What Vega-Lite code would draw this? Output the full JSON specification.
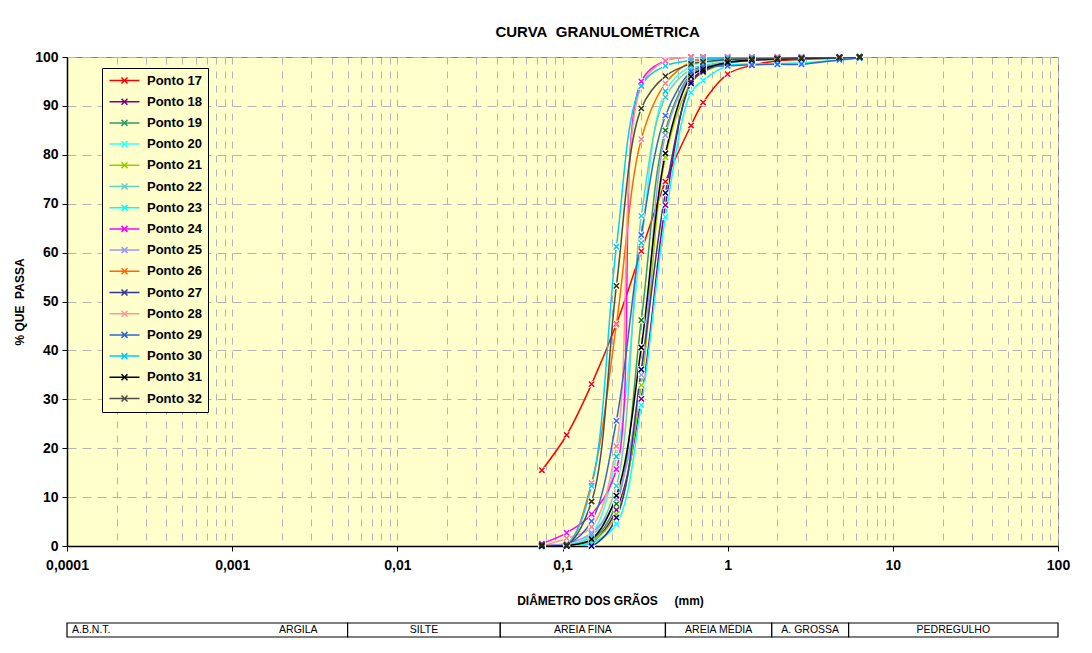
{
  "$schema": "https://vega.github.io/schema/vega-lite/v6.json",
  "background": "white",
  "padding": {"left": 13, "top": 24, "right": 10, "bottom": 5},
  "title": {"text": "CURVA\u00a0\u00a0GRANULOMÉTRICA", "font": "Liberation Sans", "fontSize": 15, "fontWeight": "bold", "color": "black", "anchor": "middle", "dx": 56, "offset": 10},
  "config": {"font": "Liberation Sans", "view": {"stroke": null}},
  "spacing": 15,
  "vconcat": [
    {
      "width": 991,
      "height": 489,
      "view": {"fill": "#FFFFCC", "stroke": "#808080", "strokeWidth": 1},
      "data": {"values": [
        {"abertura": 0.075, "Ponto 17": 15.5, "Ponto 18": 0, "Ponto 19": 0, "Ponto 20": 0, "Ponto 21": 0, "Ponto 22": 0, "Ponto 23": 0, "Ponto 24": 0.5, "Ponto 25": 0.3, "Ponto 26": 0, "Ponto 27": 0, "Ponto 28": 0, "Ponto 29": 0, "Ponto 30": 0, "Ponto 31": 0, "Ponto 32": 0.3},
        {"abertura": 0.106, "Ponto 17": 22.7, "Ponto 18": 0.1, "Ponto 19": 0.1, "Ponto 20": 0.2, "Ponto 21": 0.1, "Ponto 22": 0.2, "Ponto 23": 0, "Ponto 24": 2.7, "Ponto 25": 0.5, "Ponto 26": 0.2, "Ponto 27": 0, "Ponto 28": 1.6, "Ponto 29": 0.3, "Ponto 30": 0.3, "Ponto 31": 0.1, "Ponto 32": 0.2},
        {"abertura": 0.15, "Ponto 17": 33.1, "Ponto 18": 0.8, "Ponto 19": 1.2, "Ponto 20": 2.5, "Ponto 21": 0.9, "Ponto 22": 2.0, "Ponto 23": 0.6, "Ponto 24": 6.5, "Ponto 25": 2.7, "Ponto 26": 12.9, "Ponto 27": 0, "Ponto 28": 3.9, "Ponto 29": 5.1, "Ponto 30": 12.3, "Ponto 31": 1.4, "Ponto 32": 9.1},
        {"abertura": 0.212, "Ponto 17": 45.4, "Ponto 18": 7.4, "Ponto 19": 8.6, "Ponto 20": 18.3, "Ponto 21": 6.5, "Ponto 22": 12.3, "Ponto 23": 4.5, "Ponto 24": 15.7, "Ponto 25": 9.6, "Ponto 26": 45.3, "Ponto 27": 5.8, "Ponto 28": 20.4, "Ponto 29": 25.6, "Ponto 30": 61.2, "Ponto 31": 10.3, "Ponto 32": 53.2},
        {"abertura": 0.3, "Ponto 17": 60.3, "Ponto 18": 30.1, "Ponto 19": 46.2, "Ponto 20": 62.0, "Ponto 21": 32.9, "Ponto 22": 67.5, "Ponto 23": 28.8, "Ponto 24": 95.0, "Ponto 25": 35.0, "Ponto 26": 83.2, "Ponto 27": 36.1, "Ponto 28": 94.0, "Ponto 29": 63.6, "Ponto 30": 94.1, "Ponto 31": 40.6, "Ponto 32": 89.5},
        {"abertura": 0.42, "Ponto 17": 74.5, "Ponto 18": 69.7, "Ponto 19": 85.0, "Ponto 20": 93.0, "Ponto 21": 79.5, "Ponto 22": 91.8, "Ponto 23": 67.3, "Ponto 24": 99.2, "Ponto 25": 84.0, "Ponto 26": 94.6, "Ponto 27": 72.2, "Ponto 28": 99.2, "Ponto 29": 88.0, "Ponto 30": 98.2, "Ponto 31": 80.3, "Ponto 32": 96.1},
        {"abertura": 0.6, "Ponto 17": 86.0, "Ponto 18": 95.0, "Ponto 19": 96.5, "Ponto 20": 98.2, "Ponto 21": 94.6, "Ponto 22": 97.5, "Ponto 23": 92.7, "Ponto 24": 100, "Ponto 25": 96.2, "Ponto 26": 99.0, "Ponto 27": 94.6, "Ponto 28": 100, "Ponto 29": 97.0, "Ponto 30": 99.3, "Ponto 31": 96.0, "Ponto 32": 98.6},
        {"abertura": 0.71, "Ponto 17": 90.7, "Ponto 18": 97.2, "Ponto 19": 97.8, "Ponto 20": 98.8, "Ponto 21": 96.8, "Ponto 22": 98.3, "Ponto 23": 95.2, "Ponto 24": 100, "Ponto 25": 97.6, "Ponto 26": 99.4, "Ponto 27": 97.0, "Ponto 28": 100, "Ponto 29": 98.0, "Ponto 30": 99.6, "Ponto 31": 97.5, "Ponto 32": 99.0},
        {"abertura": 1.0, "Ponto 17": 96.5, "Ponto 18": 98.8, "Ponto 19": 98.9, "Ponto 20": 99.3, "Ponto 21": 98.7, "Ponto 22": 99.0, "Ponto 23": 98.2, "Ponto 24": 100, "Ponto 25": 98.8, "Ponto 26": 99.7, "Ponto 27": 98.8, "Ponto 28": 100, "Ponto 29": 98.2, "Ponto 30": 99.8, "Ponto 31": 98.9, "Ponto 32": 99.5},
        {"abertura": 1.4, "Ponto 17": 98.3, "Ponto 18": 99.4, "Ponto 19": 99.3, "Ponto 20": 99.5, "Ponto 21": 99.3, "Ponto 22": 99.4, "Ponto 23": 98.6, "Ponto 24": 100, "Ponto 25": 99.3, "Ponto 26": 99.8, "Ponto 27": 99.3, "Ponto 28": 100, "Ponto 29": 98.4, "Ponto 30": 99.9, "Ponto 31": 99.4, "Ponto 32": 99.6},
        {"abertura": 2.0, "Ponto 17": 99.2, "Ponto 18": 99.7, "Ponto 19": 99.5, "Ponto 20": 99.6, "Ponto 21": 99.6, "Ponto 22": 99.6, "Ponto 23": 98.6, "Ponto 24": 100, "Ponto 25": 99.6, "Ponto 26": 99.9, "Ponto 27": 99.6, "Ponto 28": 100, "Ponto 29": 98.5, "Ponto 30": 99.9, "Ponto 31": 99.6, "Ponto 32": 99.7},
        {"abertura": 2.8, "Ponto 17": 99.5, "Ponto 18": 99.8, "Ponto 19": 99.6, "Ponto 20": 99.7, "Ponto 21": 99.8, "Ponto 22": 99.7, "Ponto 23": 98.8, "Ponto 24": 100, "Ponto 25": 99.7, "Ponto 26": 99.9, "Ponto 27": 99.7, "Ponto 28": 100, "Ponto 29": 98.5, "Ponto 30": 100, "Ponto 31": 99.7, "Ponto 32": 99.8},
        {"abertura": 4.75, "Ponto 17": 99.8, "Ponto 18": 99.9, "Ponto 19": 99.8, "Ponto 20": 99.9, "Ponto 21": 99.9, "Ponto 22": 99.9, "Ponto 23": 99.4, "Ponto 24": 100, "Ponto 25": 99.9, "Ponto 26": 100, "Ponto 27": 99.9, "Ponto 28": 100, "Ponto 29": 99.4, "Ponto 30": 100, "Ponto 31": 99.9, "Ponto 32": 99.9},
        {"abertura": 6.3, "Ponto 17": 100, "Ponto 18": 100, "Ponto 19": 100, "Ponto 20": 100, "Ponto 21": 100, "Ponto 22": 100, "Ponto 23": 99.8, "Ponto 24": 100, "Ponto 25": 100, "Ponto 26": 100, "Ponto 27": 100, "Ponto 28": 100, "Ponto 29": 99.8, "Ponto 30": 100, "Ponto 31": 100, "Ponto 32": 100}
      ]},
      "transform": [{"fold": ["Ponto 17", "Ponto 18", "Ponto 19", "Ponto 20", "Ponto 21", "Ponto 22", "Ponto 23", "Ponto 24", "Ponto 25", "Ponto 26", "Ponto 27", "Ponto 28", "Ponto 29", "Ponto 30", "Ponto 31", "Ponto 32"], "as": ["ponto", "passa"]}],
      "encoding": {
        "x": {
          "field": "abertura", "type": "quantitative",
          "scale": {"type": "log", "domain": [0.0001, 100]},
          "axis": {
            "values": [0.0001,0.0002,0.0003,0.0004,0.0005,0.0006,0.0007,0.0008,0.0009,0.001,0.002,0.003,0.004,0.005,0.006,0.007,0.008,0.009,0.01,0.02,0.03,0.04,0.05,0.06,0.07,0.08,0.09,0.1,0.2,0.3,0.4,0.5,0.6,0.7,0.8,0.9,1,2,3,4,5,6,7,8,9,10,20,30,40,50,60,70,80,90,100],
            "title": "DIÂMETRO DOS GRÃOS\u00a0\u00a0\u00a0\u00a0\u00a0(mm)",
            "titleFont": "Liberation Sans", "titleFontSize": 12, "titleFontWeight": "bold", "titleColor": "black",
            "titleX": 543, "titleY": 49, "titleAlign": "center", "titleBaseline": "top",
            "labelExpr": "abs(log(datum.value)/LN10 - round(log(datum.value)/LN10)) < 0.001 ? replace(format(datum.value, ''), '.', ',') : ''",
            "labelFont": "Liberation Sans", "labelFontSize": 14, "labelFontWeight": "bold", "labelColor": "black",
            "labelFlush": false, "labelOverlap": false, "labelPadding": 7,
            "domainColor": "black", "domainWidth": 1.5,
            "tickColor": "black", "tickSize": 5,
            "tickOpacity": {"condition": {"test": "abs(log(datum.value)/LN10 - round(log(datum.value)/LN10)) < 0.001", "value": 1}, "value": 0},
            "grid": true, "gridColor": "#B4B4B4", "gridDash": [7, 7], "gridWidth": 1
          }
        },
        "y": {
          "field": "passa", "type": "quantitative",
          "scale": {"domain": [0, 100], "nice": false},
          "axis": {
            "values": [0, 10, 20, 30, 40, 50, 60, 70, 80, 90, 100],
            "title": "%\u00a0QUE\u00a0\u00a0PASSA",
            "titleFont": "Liberation Sans", "titleFontSize": 12, "titleFontWeight": "bold", "titleColor": "black", "titlePadding": 8,
            "labelFont": "Liberation Sans", "labelFontSize": 14, "labelFontWeight": "bold", "labelColor": "black", "labelPadding": 4, "labelFlush": false,
            "domainColor": "black", "domainWidth": 1.5,
            "tickColor": "black", "tickSize": 5,
            "grid": true, "gridColor": "#B4B4B4", "gridDash": [9, 6], "gridWidth": 1
          }
        }
      },
      "layer": [
        {
          "mark": {"type": "line", "interpolate": "catmull-rom", "strokeWidth": 1.5, "clip": true},
          "encoding": {
            "color": {
              "field": "ponto", "type": "nominal",
              "scale": {
                "domain": ["Ponto 17", "Ponto 18", "Ponto 19", "Ponto 20", "Ponto 21", "Ponto 22", "Ponto 23", "Ponto 24", "Ponto 25", "Ponto 26", "Ponto 27", "Ponto 28", "Ponto 29", "Ponto 30", "Ponto 31", "Ponto 32"],
                "range": ["#FF0000", "#800080", "#339966", "#33FFFF", "#99CC00", "#66CCCC", "#00FFFF", "#FF00FF", "#9999FF", "#FF6600", "#333399", "#FF9999", "#3366CC", "#00CCFF", "#000000", "#4D4D4D"]
              },
              "legend": {
                "title": null, "orient": "none", "legendX": 35, "legendY": 11,
                "symbolType": "M-1,0L5,0M1.4,-0.6L2.6,0.6M1.4,0.6L2.6,-0.6",
                "symbolSize": 100, "symbolStrokeWidth": 1.5, "symbolFillColor": "transparent",
                "labelFont": "Liberation Sans", "labelFontSize": 13, "labelFontWeight": "bold", "labelColor": "black",
                "labelOffset": 26, "labelLimit": 200, "rowPadding": 7.2,
                "padding": 6, "strokeColor": "black", "fillColor": "#FFFFCC"
              }
            }
          }
        },
        {
          "mark": {"type": "point", "shape": "square", "filled": true, "fill": "white", "size": 45, "opacity": 1, "strokeWidth": 0}
        },
        {
          "mark": {"type": "point", "shape": "M-1,-1L1,1M-1,1L1,-1", "filled": false, "size": 28, "strokeWidth": 1.5, "opacity": 1},
          "encoding": {
            "color": {
              "field": "ponto", "type": "nominal",
              "scale": {
                "domain": ["Ponto 17", "Ponto 18", "Ponto 19", "Ponto 20", "Ponto 21", "Ponto 22", "Ponto 23", "Ponto 24", "Ponto 25", "Ponto 26", "Ponto 27", "Ponto 28", "Ponto 29", "Ponto 30", "Ponto 31", "Ponto 32"],
                "range": ["#FF0000", "#800080", "#008000", "#00CCCC", "#99CC00", "#33CCCC", "#00FFFF", "#FF00FF", "#9999FF", "#FF8080", "#000080", "#FF8080", "#3366FF", "#00CCFF", "#000000", "#333300"]
              },
              "legend": null
            }
          }
        }
      ],
      "resolve": {"scale": {"color": "independent"}}
    },
    {
      "width": 991,
      "height": 14,
      "data": {"values": [
        {"classe": "ARGILA", "de": 0.0001, "ate": 0.005},
        {"classe": "SILTE", "de": 0.005, "ate": 0.042},
        {"classe": "AREIA FINA", "de": 0.042, "ate": 0.42},
        {"classe": "AREIA MÉDIA", "de": 0.42, "ate": 1.85},
        {"classe": "A. GROSSA", "de": 1.85, "ate": 5.4},
        {"classe": "PEDREGULHO", "de": 5.4, "ate": 100}
      ]},
      "layer": [
        {
          "mark": {"type": "rect", "fill": "white", "stroke": "black", "strokeWidth": 1.2},
          "encoding": {
            "x": {"field": "de", "type": "quantitative", "scale": {"type": "log", "domain": [0.0001, 100]}, "axis": null},
            "x2": {"field": "ate"}
          }
        },
        {
          "transform": [{"filter": "datum.classe != 'ARGILA'"}, {"calculate": "sqrt(datum.de * datum.ate)", "as": "meio"}],
          "mark": {"type": "text", "font": "Liberation Sans", "fontSize": 10.5, "color": "black"},
          "encoding": {
            "x": {"field": "meio", "type": "quantitative", "scale": {"type": "log", "domain": [0.0001, 100]}, "axis": null},
            "text": {"field": "classe"}
          }
        },
        {
          "transform": [{"filter": "datum.classe == 'ARGILA'"}],
          "mark": {"type": "text", "font": "Liberation Sans", "fontSize": 10.5, "color": "black", "align": "right", "dx": -30},
          "encoding": {
            "x": {"field": "ate", "type": "quantitative", "scale": {"type": "log", "domain": [0.0001, 100]}, "axis": null},
            "text": {"field": "classe"}
          }
        },
        {
          "transform": [{"filter": "datum.classe == 'ARGILA'"}],
          "mark": {"type": "text", "font": "Liberation Sans", "fontSize": 10.5, "color": "black", "align": "left", "dx": 5, "text": "A.B.N.T."},
          "encoding": {
            "x": {"field": "de", "type": "quantitative", "scale": {"type": "log", "domain": [0.0001, 100]}, "axis": null}
          }
        }
      ]
    }
  ]
}
